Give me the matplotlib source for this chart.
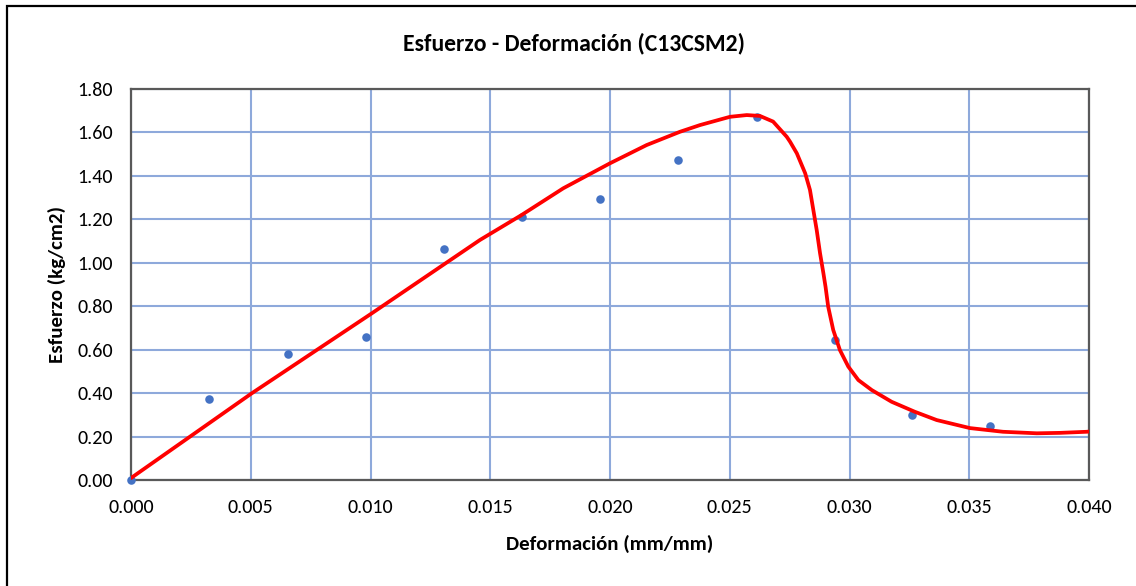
import matplotlib
matplotlib.use("Agg")
import matplotlib.pyplot as plt
from matplotlib import font_manager
from matplotlib.patches import Rectangle
from matplotlib.ticker import FormatStrFormatter, MultipleLocator

# Measured specimen points (strain, stress)
deformacion = [0.0, 0.00326, 0.00656, 0.00981, 0.01307, 0.01633,
               0.01958, 0.02284, 0.02614, 0.02939, 0.03261, 0.03587]
esfuerzo = [0.0, 0.373, 0.580, 0.658, 1.065, 1.213,
            1.293, 1.475, 1.669, 0.645, 0.298, 0.249]

# Fitted stress-strain curve
curva_x = [0.0, 0.00504, 0.01005, 0.01457, 0.01631, 0.01805, 0.02000,
           0.02153, 0.02292, 0.02376, 0.02501, 0.02571, 0.02626, 0.02681,
           0.02738, 0.02752, 0.02780, 0.02815, 0.02835, 0.02849, 0.02863,
           0.02877, 0.02891, 0.02900, 0.02911, 0.02932, 0.02960, 0.02995,
           0.03037, 0.03093, 0.03176, 0.03273, 0.03364, 0.03503, 0.03641,
           0.03782, 0.03879, 0.03990, 0.04000]
curva_y = [0.009, 0.399, 0.767, 1.105, 1.220, 1.343, 1.458,
           1.542, 1.603, 1.634, 1.672, 1.680, 1.676, 1.650,
           1.580, 1.557, 1.504, 1.412, 1.335, 1.243, 1.151,
           1.044, 0.952, 0.889, 0.798, 0.691, 0.598, 0.522,
           0.460, 0.414, 0.360, 0.314, 0.276, 0.239, 0.222,
           0.215, 0.217, 0.222, 0.223]

titulo = "Esfuerzo - Deformación (C13CSM2)"
etiqueta_x = "Deformación (mm/mm)"
etiqueta_y = "Esfuerzo (kg/cm2)"

available = {f.name for f in font_manager.fontManager.ttflist}
family = next((f for f in ["Carlito", "Calibri", "Lato", "Open Sans"] if f in available), "DejaVu Sans")
plt.rcParams["font.family"] = [family, "DejaVu Sans"]

W, H = 1136, 586
fig = plt.figure(figsize=(W / 100, H / 100), dpi=100)
fig.patch.set_facecolor("white")

left, right, top, bottom = 131, 1089, 89, 480
ax = fig.add_axes([left / W, 1 - bottom / H, (right - left) / W, (bottom - top) / H])

grid_color = "#8EA9DB"
spine_color = "#595959"

ax.set_xlim(0, 0.040)
ax.set_ylim(0, 1.80)
ax.xaxis.set_major_locator(MultipleLocator(0.005))
ax.yaxis.set_major_locator(MultipleLocator(0.20))
ax.xaxis.set_major_formatter(FormatStrFormatter("%.3f"))
ax.yaxis.set_major_formatter(FormatStrFormatter("%.2f"))
ax.grid(True, color=grid_color, linewidth=1.5, zorder=0)
ax.set_axisbelow(True)
for s in ax.spines.values():
    s.set_color(spine_color)
    s.set_linewidth(1.6)
ax.tick_params(length=0, labelsize=14.5, colors="#000000")
ax.tick_params(axis="y", pad=13)
ax.tick_params(axis="x", pad=14)

ax.scatter(deformacion, esfuerzo, s=38, color="#4472C4", zorder=3, clip_on=False, linewidths=0)
ax.plot(curva_x, curva_y, color="#FF0000", linewidth=2.7, zorder=4,
        solid_joinstyle="round", solid_capstyle="round")

ax.set_xlabel(etiqueta_x, fontsize=15, fontweight="bold", labelpad=13)
ax.set_ylabel(etiqueta_y, fontsize=15, fontweight="bold", labelpad=8)

fig.text(574 / W, 1 - 43 / H, titulo, fontsize=17, fontweight="bold",
         ha="center", va="center")

# Chart-area border
fig.patches.append(Rectangle((7 / W, -0.1), 1.2, 1.1 - 6 / H, transform=fig.transFigure,
                             fill=False, edgecolor="black", linewidth=1.6))

fig.savefig("out.png", dpi=100, facecolor="white")
